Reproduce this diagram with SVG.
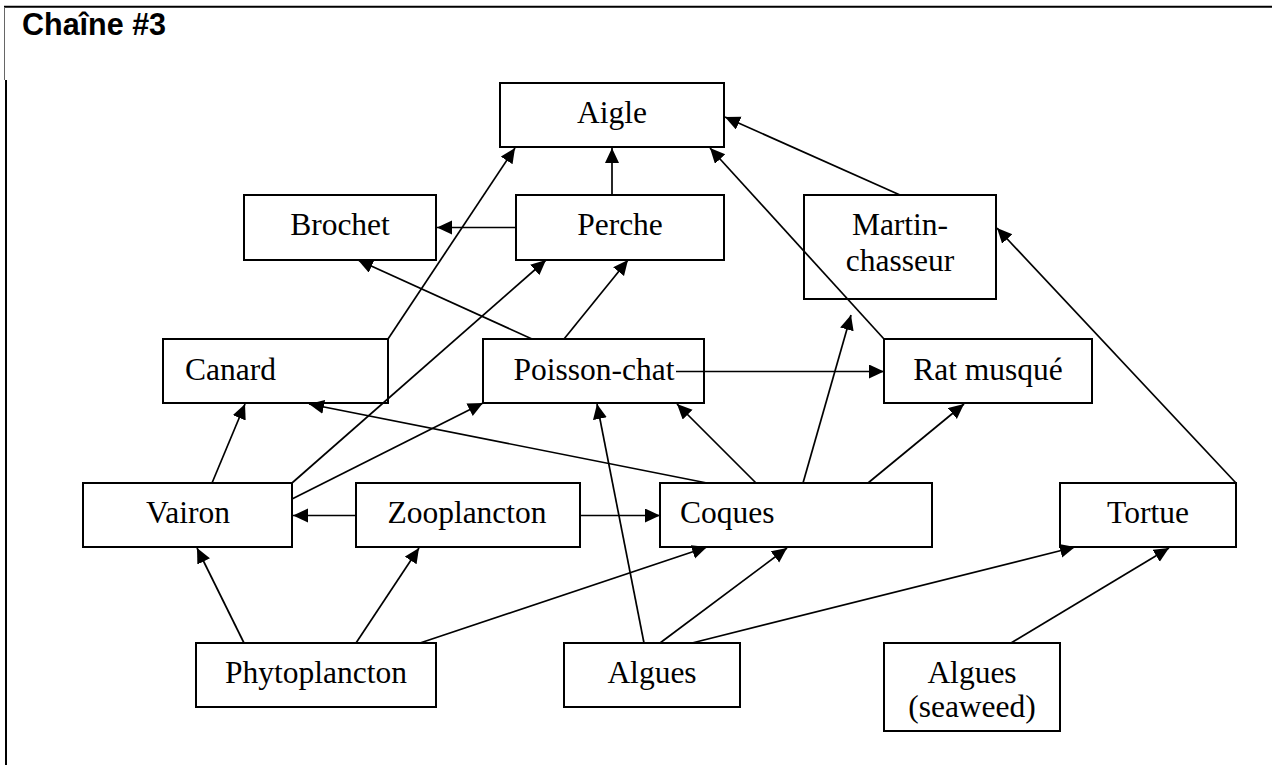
<svg xmlns="http://www.w3.org/2000/svg" width="1272" height="765" viewBox="0 0 1272 765">
<defs>
<style>
.box{fill:#fff;stroke:#000;stroke-width:2}
.t{font-family:"Liberation Serif","Times New Roman",serif;font-size:31.5px;fill:#000;text-anchor:middle}
.tl{text-anchor:start}
.c line{stroke:#000;stroke-width:1.7;marker-end:url(#ah)}
</style>
<marker id="ah" markerUnits="userSpaceOnUse" markerWidth="16" markerHeight="15" refX="15" refY="7" orient="auto">
<path d="M0,0 L15,7 L0,14 z" fill="#000"/>
</marker>
</defs>
<rect width="1272" height="765" fill="#fff"/>
<g id="frame">
<line x1="4" y1="6.7" x2="1272" y2="6.7" stroke="#000" stroke-width="2"/>
<line x1="4.5" y1="7" x2="4.5" y2="80" stroke="#666" stroke-width="1"/>
<line x1="6" y1="80" x2="6" y2="765" stroke="#000" stroke-width="2"/>
<text x="22" y="35" font-family="'Liberation Sans',Arial,sans-serif" font-weight="bold" font-size="30.5">Chaîne #3</text>
</g>
<g id="aigle"><rect class="box" x="500" y="83" width="224" height="64"/><text class="t" x="612" y="123">Aigle</text></g>
<g id="brochet"><rect class="box" x="244" y="195" width="192" height="65"/><text class="t" x="340" y="235">Brochet</text></g>
<g id="perche"><rect class="box" x="516" y="195" width="208" height="65"/><text class="t" x="620" y="235">Perche</text></g>
<g id="martin"><rect class="box" x="804" y="195" width="192" height="104"/><text class="t" x="900" y="235">Martin-</text><text class="t" x="900" y="271">chasseur</text></g>
<g id="canard"><rect class="box" x="163" y="339" width="225" height="64"/><text class="t tl" x="185" y="380">Canard</text></g>
<g id="poisson-chat"><rect class="box" x="483" y="339" width="221" height="64"/><text class="t" x="594" y="380">Poisson-chat</text></g>
<g id="rat"><rect class="box" x="884" y="339" width="208" height="64"/><text class="t" x="988" y="380">Rat musqué</text></g>
<g id="vairon"><rect class="box" x="83" y="483" width="209" height="64"/><text class="t" x="188" y="523">Vairon</text></g>
<g id="zooplancton"><rect class="box" x="356" y="483" width="224" height="64"/><text class="t" x="467" y="523">Zooplancton</text></g>
<g id="coques"><rect class="box" x="660" y="483" width="272" height="64"/><text class="t tl" x="680" y="523">Coques</text></g>
<g id="tortue"><rect class="box" x="1060" y="483" width="176" height="64"/><text class="t" x="1148" y="523">Tortue</text></g>
<g id="phytoplancton"><rect class="box" x="196" y="643" width="240" height="64"/><text class="t" x="316" y="683">Phytoplancton</text></g>
<g id="algues"><rect class="box" x="564" y="643" width="176" height="64"/><text class="t" x="652" y="683">Algues</text></g>
<g id="algues-seaweed"><rect class="box" x="884" y="643" width="176" height="88"/><text class="t" x="972" y="683">Algues</text><text class="t" x="972" y="717">(seaweed)</text></g>
<g id="connectors" class="c">
<line x1="612" y1="195" x2="612" y2="148"/>
<line x1="516" y1="227.5" x2="437" y2="227.5"/>
<line x1="388" y1="339" x2="515" y2="148"/>
<line x1="292" y1="483" x2="546" y2="260"/>
<line x1="292" y1="499" x2="483" y2="403"/>
<line x1="212" y1="483" x2="245" y2="404"/>
<line x1="532" y1="339" x2="358" y2="260"/>
<line x1="564" y1="339" x2="628" y2="260"/>
<line x1="676" y1="371.5" x2="884" y2="371.5"/>
<line x1="884" y1="339" x2="710" y2="148"/>
<line x1="900" y1="195" x2="725" y2="117"/>
<line x1="1236" y1="483" x2="997" y2="228"/>
<line x1="707" y1="483" x2="309" y2="404"/>
<line x1="756" y1="483" x2="677" y2="404"/>
<line x1="803" y1="483" x2="851" y2="315"/>
<line x1="868" y1="483" x2="964" y2="404"/>
<line x1="644" y1="643" x2="597" y2="404"/>
<line x1="660" y1="643" x2="787" y2="548"/>
<line x1="692" y1="643" x2="1075" y2="547"/>
<line x1="244" y1="643" x2="197" y2="548"/>
<line x1="356" y1="643" x2="419" y2="548"/>
<line x1="420" y1="643" x2="707" y2="547"/>
<line x1="356" y1="515.5" x2="293" y2="515.5"/>
<line x1="580" y1="515.5" x2="660" y2="515.5"/>
<line x1="1011" y1="643" x2="1169" y2="548"/>
</g>
</svg>
